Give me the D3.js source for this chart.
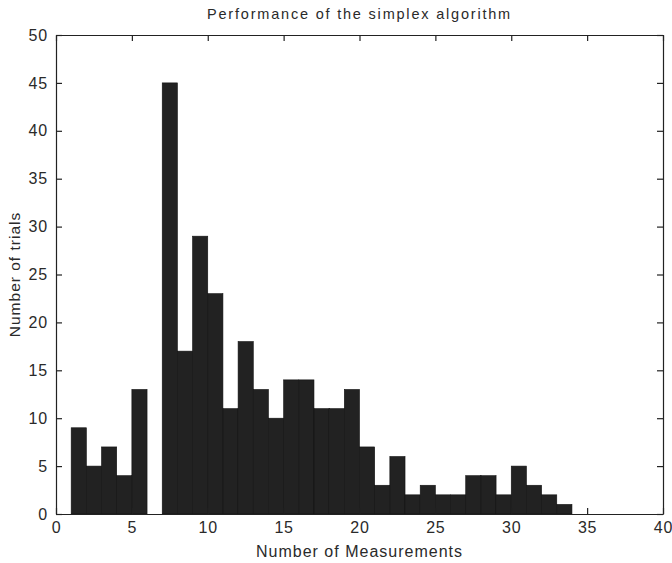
<!DOCTYPE html>
<html>
<head>
<meta charset="utf-8">
<script src="https://cdn.jsdelivr.net/npm/d3@7"></script>
<style>
  body { margin: 0; background: #fff; }
  svg text { font-family: "Liberation Sans", Arial, sans-serif; fill: #2a2a2a; }
</style>
</head>
<body>
<div id="chart"></div>
<script>
// histogram bins: left edge of each unit-wide bin and its count
const binStarts = [1, 2, 3, 4, 5, 6, 7, 8, 9, 10, 11, 12, 13, 14, 15, 16, 17,
  18, 19, 20, 21, 22, 23, 24, 25, 26, 27, 28, 29, 30, 31, 32, 33];
const counts = [9, 5, 7, 4, 13, 0, 45, 17, 29, 23, 11, 18, 13, 10, 14, 14, 11,
  11, 13, 7, 3, 6, 2, 3, 2, 2, 4, 4, 2, 5, 3, 2, 1];
const xTicks = [0, 5, 10, 15, 20, 25, 30, 35, 40];
const yTicks = [0, 5, 10, 15, 20, 25, 30, 35, 40, 45, 50];

const W = 672, H = 563;
const margin = {top: 35, right: 9, bottom: 49, left: 56};
const width = W - margin.left - margin.right;
const height = H - margin.top - margin.bottom;

const svg = d3.select("#chart")
    .append("svg")
    .attr("width", W)
    .attr("height", H);

const g = svg.append("g")
    .attr("transform", "translate(" + margin.left + "," + margin.top + ")");

const x = d3.scaleLinear().domain([0, 40]).range([0, width]);
const y = d3.scaleLinear().domain([0, 50]).range([height, 0]);

const bins = binStarts.map((b, i) => ({x0: b, x1: b + 1, n: counts[i]}));

// bars
g.selectAll(".bar")
    .data(bins.filter((d) => d.n > 0))
    .enter()
    .append("rect")
    .attr("class", "bar")
    .attr("x", (d) => x(d.x0))
    .attr("width", (d) => x(d.x1) - x(d.x0))
    .attr("y", (d) => y(d.n))
    .attr("height", (d) => y(0) - y(d.n))
    .attr("fill", "#222")
    .attr("stroke", "#111")
    .attr("stroke-width", 0.6);

// axes, ticks pointing inward, box all round
const axisColor = "#222";
g.append("g")
    .attr("transform", "translate(0," + height + ")")
    .call(d3.axisBottom(x).tickValues(xTicks).tickSizeInner(-6).tickSizeOuter(0).tickPadding(8))
    .call((a) => a.selectAll("text").attr("font-size", 16).attr("letter-spacing", 0.8));
g.append("g")
    .call(d3.axisTop(x).tickValues(xTicks).tickSizeInner(-6).tickSizeOuter(0).tickFormat(""));
g.append("g")
    .call(d3.axisLeft(y).tickValues(yTicks).tickSizeInner(-6).tickSizeOuter(0).tickPadding(8))
    .call((a) => a.selectAll("text").attr("font-size", 16).attr("letter-spacing", 0.8));
g.append("g")
    .attr("transform", "translate(" + width + ",0)")
    .call(d3.axisRight(y).tickValues(yTicks).tickSizeInner(-6).tickSizeOuter(0).tickFormat(""));
g.selectAll(".domain, .tick line").attr("stroke", axisColor).attr("stroke-width", 1.2);

// titles
svg.append("text")
    .attr("x", margin.left + width / 2)
    .attr("y", 19)
    .attr("text-anchor", "middle")
    .attr("font-size", 14.5)
    .attr("letter-spacing", 1.8)
    .text("Performance of the simplex algorithm");

svg.append("text")
    .attr("x", margin.left + width / 2)
    .attr("y", 557)
    .attr("text-anchor", "middle")
    .attr("font-size", 16)
    .attr("letter-spacing", 1)
    .text("Number of Measurements");

svg.append("text")
    .attr("transform", "translate(20," + (margin.top + height / 2) + ") rotate(-90)")
    .attr("text-anchor", "middle")
    .attr("font-size", 15.5)
    .attr("letter-spacing", 1)
    .text("Number of trials");
</script>
</body>
</html>
